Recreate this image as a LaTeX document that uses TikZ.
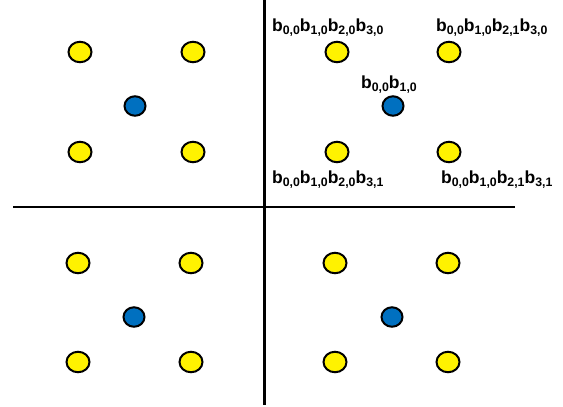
\documentclass[tikz,border=0pt]{standalone}
\usepackage{fontspec}
\setmainfont{Liberation Sans}
\usetikzlibrary{shapes.geometric}
\newcommand\bsub[1]{\raisebox{-3.4pt}{\fontsize{12.3}{13}\selectfont #1}}
\newcommand\bb[1]{b\bsub{#1}}
\begin{document}
\begin{tikzpicture}[x=1pt,y=-1pt,
  yel/.style={ellipse,draw=black,line width=2pt,fill=yellow,minimum width=23pt,minimum height=20.5pt,inner sep=0pt},
  blu/.style={ellipse,draw=black,line width=2pt,fill={rgb,255:red,0;green,112;blue,192},minimum width=21pt,minimum height=19.5pt,inner sep=0pt},
  lab/.style={anchor=base west,inner sep=0pt,font=\fontsize{17.5}{20}\selectfont\bfseries},
  axis/.style={line width=2.2pt}]
\useasboundingbox (0,0) rectangle (563,407);
\coordinate (vt) at (264.5,0);
\coordinate (vb) at (264.5,405);
\coordinate (hl) at (13,207);
\coordinate (hr) at (515,207);
\draw[axis] (vt) -- (vb);
\draw[axis] (hl) -- (hr);
% top-left
\node[yel] (tl1) at (80,52) {};
\node[yel] (tl2) at (193,52) {};
\node[yel] (tl3) at (80,152) {};
\node[yel] (tl4) at (193,152) {};
\node[blu] (tlb) at (135,106) {};
% top-right
\node[yel] (tr1) at (337,52) {};
\node[yel] (tr2) at (449,52) {};
\node[yel] (tr3) at (337,152) {};
\node[yel] (tr4) at (449,152) {};
\node[blu] (trb) at (393,106) {};
% bottom-left
\node[yel] (bl1) at (78,263) {};
\node[yel] (bl2) at (191,263) {};
\node[yel] (bl3) at (78,362) {};
\node[yel] (bl4) at (191,362) {};
\node[blu] (blb) at (134,317) {};
% bottom-right
\node[yel] (br1) at (335,263) {};
\node[yel] (br2) at (448,263) {};
\node[yel] (br3) at (335,362) {};
\node[yel] (br4) at (448,362) {};
\node[blu] (brb) at (392,317) {};
% labels
\node[lab] (l1) at (272,31) {\bb{0,0}\bb{1,0}\bb{2,0}\bb{3,0}};
\node[lab] (l2) at (436,31) {\bb{0,0}\bb{1,0}\bb{2,1}\bb{3,0}};
\node[lab] (l3) at (361,88) {\bb{0,0}\bb{1,0}};
\node[lab] (l4) at (272,183) {\bb{0,0}\bb{1,0}\bb{2,0}\bb{3,1}};
\node[lab] (l5) at (441,183) {\bb{0,0}\bb{1,0}\bb{2,1}\bb{3,1}};
\end{tikzpicture}
\end{document}
